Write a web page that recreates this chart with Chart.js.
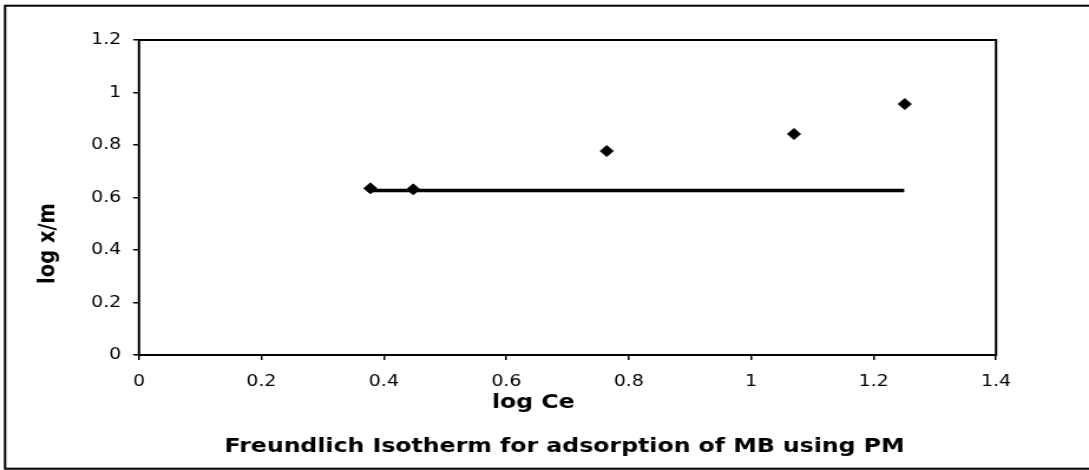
<!DOCTYPE html>
<html>
<head>
<meta charset="utf-8">
<script src="https://cdn.jsdelivr.net/npm/chart.js@4.4.1/dist/chart.umd.min.js"></script>
<style>
  html, body { margin: 0; padding: 0; background: #fff; }
  canvas { display: block; width: 1089px; height: 470px; }
</style>
</head>
<body>
<canvas id="c" width="923" height="470" style="width:1089px;height:470px"></canvas>
<script>
// ---- data ----
const logCe = [0.378, 0.448, 0.764, 1.07, 1.251];
const logXM = [0.635, 0.631, 0.777, 0.842, 0.956];
const fitX = [0.38, 1.25];
const fitY = [0.627, 0.627];
const xTickValues = [0, 0.2, 0.4, 0.6, 0.8, 1, 1.2, 1.4];
const xTickLabels = ['0', '0.2', '0.4', '0.6', '0.8', '1', '1.2', '1.4'];
const yTickValues = [0, 0.2, 0.4, 0.6, 0.8, 1, 1.2];
const yTickLabels = ['0', '0.2', '0.4', '0.6', '0.8', '1', '1.2'];
const xTitle = 'log Ce';
const yTitle = 'log x/m';
const chartTitle = 'Freundlich Isotherm for adsorption of MB using PM';

const TICK_FONT = { family: '"DejaVu Sans", Verdana, sans-serif', size: 16 };
const TITLE_FONT = 'bold 20px "DejaVu Sans", Verdana, sans-serif';
const YTITLE_FONT = 'bold 19.5px "DejaVu Sans", Verdana, sans-serif';

const framePlugin = {
  id: 'frame',
  beforeDraw(chart) {
    const ctx = chart.ctx;
    ctx.save();
    ctx.fillStyle = '#fff';
    ctx.fillRect(0, 0, chart.width, chart.height);
    ctx.restore();
  },
  beforeDatasetsDraw(chart) {
    const { ctx, chartArea: a } = chart;
    ctx.save();
    ctx.strokeStyle = '#000';
    ctx.lineWidth = 2;
    ctx.strokeRect(a.left, a.top, a.right - a.left, a.bottom - a.top);
    ctx.restore();
  },
  afterDraw(chart) {
    const ctx = chart.ctx;
    ctx.save();
    ctx.strokeStyle = '#000';
    ctx.lineWidth = 2;
    ctx.strokeRect(4.3, 5.7, 1000, 463);
    ctx.fillStyle = '#000';
    ctx.font = TITLE_FONT;
    ctx.textAlign = 'center';
    ctx.textBaseline = 'alphabetic';
    ctx.fillText(xTitle, 452, 408);
    ctx.fillText(chartTitle, 478.5, 452);
    ctx.font = YTITLE_FONT;
    ctx.translate(41, 243.5);
    ctx.rotate(-Math.PI / 2);
    ctx.textBaseline = 'middle';
    ctx.fillText(yTitle, 0, 0);
    ctx.restore();
  }
};

new Chart(document.getElementById('c'), {
  type: 'scatter',
  data: {
    datasets: [
      {
        type: 'line',
        data: fitX.map((x, i) => ({ x, y: fitY[i] })),
        borderColor: '#000',
        borderWidth: 3.5,
        pointRadius: 0,
        fill: false,
        order: 2
      },
      {
        type: 'scatter',
        data: logCe.map((x, i) => ({ x, y: logXM[i] })),
        pointStyle: 'rectRot',
        pointRadius: 5.5,
        pointBorderWidth: 1,
        backgroundColor: '#000',
        borderColor: '#000',
        order: 1
      }
    ]
  },
  options: {
    responsive: false,
    animation: false,
    devicePixelRatio: 1,
    layout: { padding: { top: 40, right: 78.8, left: 0, bottom: 0 } },
    plugins: { legend: { display: false }, tooltip: { enabled: false }, title: { display: false } },
    scales: {
      x: {
        type: 'linear',
        min: 0, max: 1.4,
        afterBuildTicks(s) { s.ticks = xTickValues.map(v => ({ value: v })); },
        afterFit(s) { s.height = 115; },
        grid: { drawOnChartArea: false, drawTicks: true, tickLength: 5, color: '#000', lineWidth: 1.5 },
        border: { display: false },
        ticks: {
          color: '#000', font: TICK_FONT, padding: 12, maxRotation: 0, autoSkip: false,
          callback: (v, i) => xTickLabels[i]
        }
      },
      y: {
        type: 'linear',
        min: 0, max: 1.2,
        afterBuildTicks(s) { s.ticks = yTickValues.map(v => ({ value: v })); },
        afterFit(s) { s.width = 117.8; },
        grid: { drawOnChartArea: false, drawTicks: true, tickLength: 5, color: '#000', lineWidth: 1.5 },
        border: { display: false },
        ticks: {
          color: '#000', font: TICK_FONT, padding: 10, autoSkip: false,
          callback: (v, i) => yTickLabels[i]
        }
      }
    }
  },
  plugins: [framePlugin]
});
</script>
</body>
</html>
